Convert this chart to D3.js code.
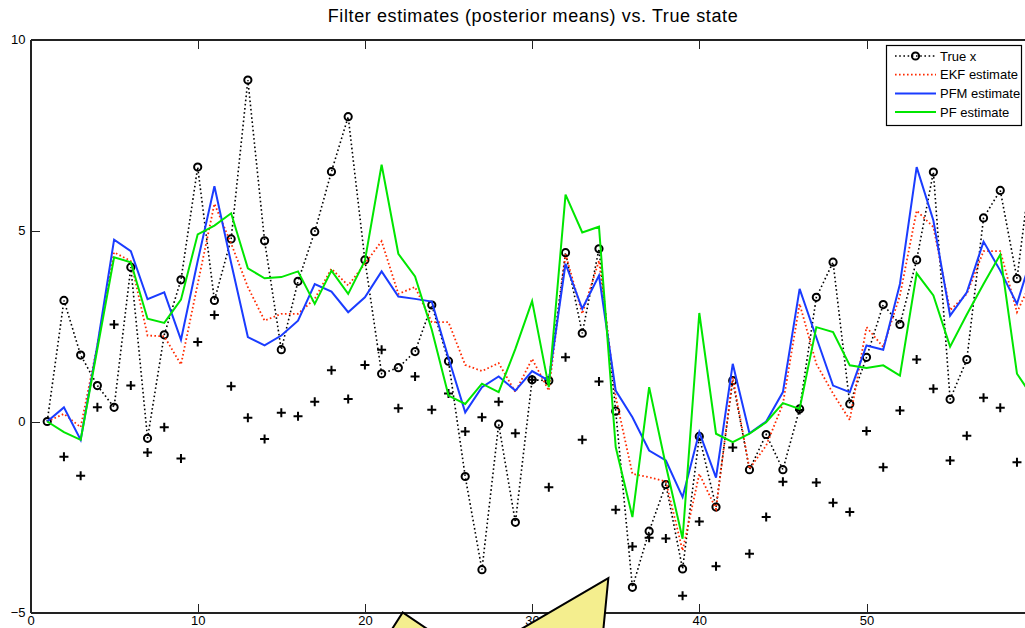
<!DOCTYPE html>
<meta charset="utf-8">
<style>
  body { margin: 0; background: #fff; }
  svg { display: block; font-family: "Liberation Sans", Arial, sans-serif; }
  .axis path, .axis line { fill: none; stroke: #222; shape-rendering: crispEdges; }
  .axis text { font-size: 13px; fill: #000; }
</style>
<body>
<svg width="1025" height="628"></svg>
<script src="https://d3js.org/d3.v7.min.js"></script>
<script>
// time steps 1..60
var steps = d3.range(1, 61);

// true state
var trueX = [0, 3.17, 1.74, 0.94, 0.37, 4.04, -0.44, 2.27, 3.71, 6.66,
  3.17, 4.78, 8.94, 4.73, 1.88, 3.67, 4.97, 6.54, 7.98, 4.23,
  1.25, 1.41, 1.83, 3.05, 1.58, -1.44, -3.88, -0.07, -2.64, 1.09,
  1.07, 4.42, 2.31, 4.52, 0.27, -4.34, -2.87, -1.65, -3.86, -0.39,
  -2.24, 1.07, -1.26, -0.34, -1.26, 0.33, 3.25, 4.17, 0.46, 1.68,
  3.06, 2.54, 4.23, 6.53, 0.58, 1.62, 5.33, 6.05, 3.74, 7.2];

// filter estimates
var ekf = [0, 0.2, -0.15, 2.0, 4.43, 4.2, 2.25, 2.23, 1.49, 3.6,
  5.70, 4.66, 3.52, 2.64, 2.82, 2.82, 3.21, 4.0, 3.56, 4.13,
  4.72, 3.34, 3.52, 2.6, 2.6, 1.48, 1.32, 1.53, 0.77, 1.64,
  0.81, 4.38, 2.82, 4.21, 0.64, -1.37, -1.46, -1.57, -3.38, -1.37,
  -2.29, 1.16, -1.24, -0.63, 0.46, 3.08, 1.51, 0.73, 0.04, 2.47,
  1.95, 3.3, 5.52, 5.09, 2.91, 3.34, 4.46, 4.46, 2.86, 3.8];
var pfm = [0, 0.37, -0.48, 2.0, 4.76, 4.46, 3.20, 3.38, 2.14, 4.2,
  6.16, 4.15, 2.21, 1.99, 2.25, 2.64, 3.60, 3.40, 2.86, 3.25,
  3.93, 3.27, 3.21, 3.14, 1.66, 0.24, 0.90, 1.18, 0.81, 1.32,
  1.07, 4.13, 2.95, 3.82, 0.81, 0.11, -0.76, -1.02, -1.98, -0.28,
  -1.47, 1.51, -0.31, 0.0, 0.77, 3.47, 2.2, 0.94, 0.77, 1.99,
  1.88, 3.6, 6.66, 5.26, 2.77, 3.38, 4.71, 3.95, 3.08, 4.5];
var pf = [0, -0.28, -0.48, 1.9, 4.30, 4.17, 2.69, 2.58, 3.19, 4.9,
  5.13, 5.45, 4.01, 3.75, 3.78, 3.93, 3.08, 3.95, 3.34, 4.21,
  6.72, 4.39, 3.80, 2.4, 0.68, 0.46, 0.99, 0.77, 1.9, 3.15,
  0.90, 5.94, 4.95, 5.10, -0.67, -2.50, 0.90, -1.15, -3.07, 2.84,
  -0.32, -0.54, -0.32, -0.02, 0.48, 0.33, 2.47, 2.34, 1.47, 1.40,
  1.47, 1.20, 3.88, 3.30, 1.96, 2.8, 3.6, 4.37, 1.25, 0.6];

// observations (+), steps 2..59
var obsSteps = d3.range(2, 60);
var obs = [-0.92, -1.42, 0.37, 2.54, 0.94, -0.81, -0.15, -0.97, 2.08,
  2.79, 0.92, 0.10, -0.46, 0.23, 0.14, 0.52, 1.34, 0.59, 1.48,
  1.88, 0.35, 1.18, 0.31, 0.73, -0.26, 0.11, 0.52, -0.31, 1.09,
  -1.72, 1.68, -0.48, 1.05, -2.31, -3.27, -3.04, -3.06, -4.56, -2.62,
  -3.79, -0.68, -3.46, -2.50, -1.58, 0.3, -1.60, -2.13, -2.37, -0.25,
  -1.20, 0.29, 1.62, 0.86, -1.02, -0.37, 0.62, 0.36, -1.07];

var xTicks = [0, 10, 20, 30, 40, 50];
var yTicks = [-5, 0, 5, 10];
var legendLabels = ["True x", "EKF estimate", "PFM estimate", "PF estimate"];

// yellow callout shape (data coords)
var callout1 = [[21.6, -5.45], [22.26, -5.0], [23.79, -5.45]];
var callout2 = [[29.28, -5.45], [34.56, -4.1], [34.26, -5.45]];

var svg = d3.select("svg");
var x = d3.scaleLinear().domain([0, 60]).range([30.5, 1033.7]);
var y = d3.scaleLinear().domain([-5, 10]).range([612.5, 39.5]);

// title
svg.append("text")
  .attr("x", 533).attr("y", 22)
  .attr("text-anchor", "middle")
  .style("font-size", "18px")
  .style("letter-spacing", "0.6px")
  .text("Filter estimates (posterior means) vs. True state");

// axes (ticks inside, box on)
svg.append("g").attr("class", "axis")
  .attr("transform", "translate(0," + y(-5) + ")")
  .call(d3.axisBottom(x).tickValues(xTicks).tickSizeInner(-9).tickSizeOuter(0).tickPadding(3));
svg.append("g").attr("class", "axis")
  .attr("transform", "translate(0," + y(10) + ")")
  .call(d3.axisTop(x).tickValues(xTicks).tickSizeInner(-9).tickSizeOuter(0).tickFormat(""));
svg.append("g").attr("class", "axis")
  .attr("transform", "translate(" + x(0) + ",0)")
  .call(d3.axisLeft(y).tickValues(yTicks).tickSizeInner(-9).tickSizeOuter(0).tickPadding(5));
svg.selectAll(".axis path.domain").style("stroke-width", 1.5);

var line = d3.line()
  .x(function (d, i) { return x(steps[i]); })
  .y(function (d) { return y(d); });

// observations
svg.append("g").selectAll("path")
  .data(obs)
  .enter().append("path")
  .attr("transform", function (d, i) { return "translate(" + x(obsSteps[i]) + "," + y(d) + ")"; })
  .attr("d", "M-4.5,0H4.5M0,-4.5V4.5")
  .attr("stroke", "#000").attr("stroke-width", 2).attr("fill", "none");

// true x
svg.append("path").datum(trueX)
  .attr("d", line).attr("fill", "none")
  .attr("stroke", "#000").attr("stroke-width", 1.6).attr("stroke-dasharray", "1.6,2.6");
svg.append("g").selectAll("circle")
  .data(trueX)
  .enter().append("circle")
  .attr("cx", function (d, i) { return x(steps[i]); })
  .attr("cy", function (d) { return y(d); })
  .attr("r", 3.6)
  .attr("fill", "none").attr("stroke", "#000").attr("stroke-width", 2);

// estimates
svg.append("path").datum(ekf)
  .attr("d", line).attr("fill", "none")
  .attr("stroke", "#ff2a00").attr("stroke-width", 1.8).attr("stroke-dasharray", "1.6,2.4");
svg.append("path").datum(pfm)
  .attr("d", line).attr("fill", "none")
  .attr("stroke", "#1a3cff").attr("stroke-width", 2);
svg.append("path").datum(pf)
  .attr("d", line).attr("fill", "none")
  .attr("stroke", "#00e600").attr("stroke-width", 2);

// legend
var lg = svg.append("g");
lg.append("rect")
  .attr("x", 886.5).attr("y", 45.5).attr("width", 135).attr("height", 80)
  .attr("fill", "#fff").attr("stroke", "#000").attr("stroke-width", 1.2);
var styles = [
  { c: "#000", dash: "1.6,2.6", w: 1.6 },
  { c: "#ff2a00", dash: "1.6,2.4", w: 1.8 },
  { c: "#1a3cff", dash: null, w: 2 },
  { c: "#00e600", dash: null, w: 2 }
];
legendLabels.forEach(function (lab, i) {
  var ly = 56 + i * 18.7;
  lg.append("line")
    .attr("x1", 895).attr("x2", 936).attr("y1", ly).attr("y2", ly)
    .attr("stroke", styles[i].c).attr("stroke-width", styles[i].w)
    .attr("stroke-dasharray", styles[i].dash);
  if (i === 0) {
    lg.append("circle").attr("cx", 915.5).attr("cy", ly).attr("r", 3.6)
      .attr("fill", "none").attr("stroke", "#000").attr("stroke-width", 2);
  }
  lg.append("text")
    .attr("x", 940).attr("y", ly + 4.5)
    .style("font-size", "13px")
    .text(lab);
});

// yellow callout
var poly = d3.line().x(function (d) { return x(d[0]); }).y(function (d) { return y(d[1]); });
[callout1, callout2].forEach(function (c) {
  svg.append("path").datum(c)
    .attr("d", poly)
    .attr("fill", "#f4ee8e").attr("stroke", "#000").attr("stroke-width", 2);
});
</script>
</body>
